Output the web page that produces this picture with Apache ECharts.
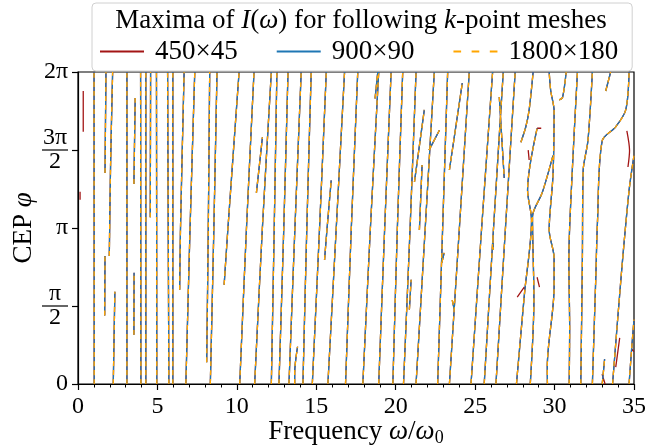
<!DOCTYPE html>
<html><head><meta charset="utf-8">
<script src="https://cdn.jsdelivr.net/npm/echarts@6/dist/echarts.min.js"></script>
<style>html,body{margin:0;padding:0;background:#fff}#c{width:645px;height:446px}</style>
</head><body><div id="c"></div>
<script>
const T = 2 * Math.PI;
// Ridges found with every mesh: lists of [omega/omega0, phi (rad)]
const mainBranches = [
  [[1.02,0],[1.01,T]],
  [[1.70,4.25],[1.76,T]],
  [[1.68,1.38],[1.70,2.58]],
  [[1.97,2.58],[2.05,4.4],[2.18,T]],
  [[2.22,0],[2.32,1.86]],
  [[3.08,0],[3.08,T]],
  [[3.52,0.99],[3.53,2.24]],
  [[3.52,4.03],[3.60,5.76]],
  [[3.96,0],[3.95,3.0],[3.94,T]],
  [[4.27,0],[4.27,T]],
  [[4.55,3.36],[4.57,T]],
  [[4.96,0],[4.94,T]],
  [[5.72,0],[5.64,T]],
  [[5.97,0],[5.97,T]],
  [[6.40,1.90],[6.45,3.1],[6.68,T]],
  [[6.79,0],[7.05,3.1],[7.35,T]],
  [[8.10,0.44],[8.20,3.1],[8.29,T]],
  [[8.33,0],[8.55,3.1],[8.75,T]],
  [[9.20,2.0],[9.43,3.1],[10.14,T]],
  [[10.18,0],[10.6,3.1],[11.08,T]],
  [[11.23,3.85],[11.61,4.97]],
  [[11.12,0],[11.6,3.1],[12.17,T]],
  [[12.17,0],[12.35,3.1],[12.52,T]],
  [[12.65,0],[12.95,3.1],[13.22,T]],
  [[13.28,0],[13.65,3.1],[14.05,T]],
  [[13.64,0],[13.64,0.22],[13.82,0.75]],
  [[14.16,0],[14.4,3.1],[14.68,T]],
  [[14.75,0],[15.2,3.1],[15.63,T]],
  [[15.52,2.5],[15.67,3.1],[15.94,4.1]],
  [[15.73,0],[16.25,3.1],[16.78,T]],
  [[16.84,0],[17.2,3.1],[17.61,T]],
  [[17.93,0],[18.4,3.1],[18.93,T]],
  [[18.70,5.75],[18.87,T]],
  [[18.93,0],[19.3,3.1],[19.71,T]],
  [[19.82,0],[20.1,3.1],[20.44,T]],
  [[20.49,0],[20.9,3.1],[21.28,T]],
  [[20.86,1.5],[20.97,2.1]],
  [[21.18,4.07],[21.8,5.52]],
  [[21.49,3.1],[21.66,4.41]],
  [[22.10,4.71],[22.75,5.11]],
  [[21.28,0],[21.85,3.1],[22.43,T]],
  [[22.90,2.44],[23.05,2.64]],
  [[22.64,0],[22.95,3.1],[23.27,T]],
  [[23.38,4.31],[24.19,6.06]],
  [[23.56,1.69],[23.69,1.49]],
  [[23.38,0],[24.0,3.1],[24.63,T]],
  [[24.74,0],[25.4,3.1],[26.10,T]],
  [[26.12,2.94],[26.14,2.70]],
  [[26.52,5.78],[26.83,4.15]],
  [[25.57,0],[26.15,3.1],[26.77,T]],
  [[26.31,0],[26.9,3.1],[27.52,T]],
  [[27.60,0],[28.10,1.80],[28.55,3.30],[28.30,3.90],[28.90,5.15]],
  [[27.88,4.87],[28.19,5.18],[28.40,5.52],[28.65,T]],
  [[28.47,0],[28.70,1.70],[28.61,3.37],[29.22,3.85],[29.90,4.60]],
  [[29.55,0],[29.54,0.34],[29.97,1.95],[29.97,2.54],[29.66,3.10],[29.90,4.20],[29.97,5.50],[29.76,5.90],[29.66,T]],
  [[30.29,5.72],[30.50,5.77],[30.73,T]],
  [[30.92,0],[30.95,1.10],[30.90,2.50],[31.10,4.20],[31.44,T]],
  [[31.65,0],[31.75,2.50],[31.80,4.30],[32.10,4.90],[32.38,T]],
  [[32.38,0],[32.60,2.20],[32.70,3.26],[33.00,4.90],[33.85,5.18],[34.48,5.52],[34.69,T]],
  [[33.22,5.90],[33.53,T]],
  [[33.65,0],[34.20,2.20],[34.69,3.90],[35.0,4.60]],
  [[34.69,0],[34.85,0.70],[35.0,1.30]],
  [[33.0,0],[33.15,0.5]]
];
// Ridges found only with the coarse 450x45 mesh
const coarseOnly = [
  [[0.33,5.9],[0.33,5.08]],
  [[0.13,3.87],[0.13,3.71]],
  [[28.90,5.15],[29.16,5.15]],
  [[28.34,4.71],[28.40,4.51]],
  [[27.65,1.75],[28.09,1.95]],
  [[28.90,2.15],[29.05,1.95]],
  [[34.10,0.93],[33.85,0.34]],
  [[32.99,0.2],[33.18,0]],
  [[34.55,5.10],[34.72,4.70],[34.62,4.37]],
  [[34.90,0.70],[34.99,0.65]]
];
const seriesNames = ['450×45', '900×90', '1800×180'];
const seriesColors = ['#a31515', '#1f77b4', '#ffa500'];
const yTickLabels = ['0', '{n|π}\n{b|}\n{d|2}', 'π', '{n|3π}\n{b|}\n{d|2}', '2π'];

function flatten(branches) {
  const out = [];
  branches.forEach(b => { b.forEach(p => out.push(p)); out.push(['-', '-']); });
  return out;
}
const data450 = flatten(mainBranches.concat(coarseOnly));
const data900 = flatten(mainBranches);
const data1800 = flatten(mainBranches);

const FONT = 'Liberation Serif';
const chart = echarts.init(document.getElementById('c'), null, {renderer: 'canvas'});
const lineSeries = (name, data, color, type, z) => ({
  name, type: 'line', data, showSymbol: false, symbol: 'none',
  connectNulls: false, smooth: 0.3, animation: false, z, clip: true,
  lineStyle: {color, width: 1.3, type}, itemStyle: {color}
});
const dashIcon = 'path://M0,0h8v2h-8zM19,0h8v2h-8zM38,0h8v2h-8z';
chart.setOption({
  animation: false,
  grid: {left: 78, right: 11, top: 72, bottom: 62, show: true, borderColor: '#000', borderWidth: 1.2,
    containLabel: false, outerBoundsMode: 'none'},
  legend: {
    left: 92, top: 3,
    padding: [35, 14, 6, 8], itemGap: 39, itemWidth: 44, itemHeight: 2,
    backgroundColor: '#fff', borderColor: '#d0d0d0', borderWidth: 1, borderRadius: 4,
    textStyle: {fontFamily: FONT, fontSize: 27, color: '#000', padding: [0, 0, 0, 6]},
    data: [
      {name: seriesNames[0], icon: 'rect'},
      {name: seriesNames[1], icon: 'rect'},
      {name: seriesNames[2], icon: dashIcon}
    ]
  },
  graphic: [{
    type: 'text', x: 361, y: 7, z: 100,
    style: {
      text: 'Maxima of {i|I}({i|ω}) for following {i|k}-point meshes',
      font: '27px ' + FONT, fill: '#000', align: 'center', verticalAlign: 'top',
      rich: {i: {fontStyle: 'italic', fontFamily: FONT, fontSize: 27}}
    }
  }],
  xAxis: {
    type: 'value', min: 0, max: 35, interval: 5,
    name: 'Frequency {i|ω}/{i|ω}{s|0}', nameLocation: 'middle', nameGap: 33, nameMoveOverlap: false,
    nameTextStyle: {fontFamily: FONT, fontSize: 27, color: '#000',
      rich: {i: {fontStyle: 'italic', fontFamily: FONT, fontSize: 27}, s: {fontFamily: FONT, fontSize: 18, padding: [12, 0, 0, 0]}}},
    axisLine: {lineStyle: {color: '#000', width: 1.2}},
    axisTick: {inside: false, length: 6, lineStyle: {color: '#000', width: 1.2}},
    minorTick: {show: true, splitNumber: 5, length: 3.5, lineStyle: {color: '#000', width: 1}},
    axisLabel: {fontFamily: FONT, fontSize: 24, color: '#000', margin: 11},
    splitLine: {show: false}
  },
  yAxis: {
    type: 'value', min: 0, max: T, interval: Math.PI / 2,
    name: 'CEP {i|φ}', nameLocation: 'middle', nameGap: 41, nameMoveOverlap: false,
    nameTextStyle: {fontFamily: FONT, fontSize: 27, color: '#000',
      rich: {i: {fontStyle: 'italic', fontFamily: FONT, fontSize: 27}}},
    axisLine: {lineStyle: {color: '#000', width: 1.2}},
    axisTick: {inside: false, length: 6, lineStyle: {color: '#000', width: 1.2}},
    axisLabel: {
      fontFamily: FONT, fontSize: 24, color: '#000', margin: 10,
      formatter: (v, i) => yTickLabels[i],
      rich: {
        n: {fontFamily: FONT, fontSize: 24, width: 26, align: 'center', lineHeight: 22},
        b: {width: 26, height: 1.2, backgroundColor: '#000', lineHeight: 2},
        d: {fontFamily: FONT, fontSize: 24, width: 26, align: 'center', lineHeight: 22}
      }
    },
    splitLine: {show: false}
  },
  series: [
    lineSeries(seriesNames[0], data450, seriesColors[0], 'solid', 2),
    lineSeries(seriesNames[1], data900, seriesColors[1], 'solid', 3),
    lineSeries(seriesNames[2], data1800, seriesColors[2], [5, 4], 4)
  ]
});
</script></body></html>
